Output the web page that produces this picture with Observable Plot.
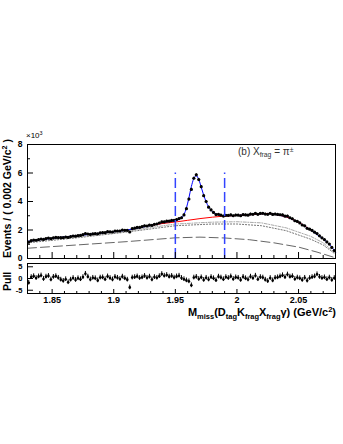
<!DOCTYPE html>
<html><head><meta charset="utf-8">
<script src="https://cdn.jsdelivr.net/npm/d3@7"></script>
<script src="https://cdn.jsdelivr.net/npm/@observablehq/plot@0.6"></script>
<style>
body{margin:0;background:#fff;}
#wrap{position:relative;width:343px;height:444px;overflow:hidden;font-family:"Liberation Sans",Arial,Helvetica,sans-serif;}
#wrap svg{position:absolute;left:0;top:0;}
.lbl{position:absolute;white-space:nowrap;color:#000;}
.rot{transform:rotate(-90deg);transform-origin:0 0;}
.sup{font-size:0.68em;vertical-align:0.5em;line-height:0;}
.sub{font-size:0.68em;vertical-align:-0.35em;line-height:0;}
</style></head><body><div id="wrap"></div>
<script>
// ---- data (Events in units of 10^3 per 0.002 GeV/c^2 bin) ----
const binLow = 1.83, binWidth = 0.002;
const counts = [
 1.15,1.25,1.29,1.28,1.33,1.37,1.34,1.40,1.43,1.39,
 1.45,1.48,1.47,1.46,1.46,1.51,1.48,1.54,1.58,1.57,
 1.61,1.62,1.67,1.75,1.72,1.69,1.73,1.74,1.73,1.80,
 1.82,1.81,1.88,1.87,1.86,1.93,1.93,1.93,2.00,1.98,
 1.98,1.86,2.09,2.13,2.18,2.18,2.23,2.29,2.28,2.34,
 2.32,2.40,2.42,2.49,2.57,2.57,2.62,2.62,2.67,2.67,
 2.73,2.80,2.86,3.06,3.50,4.17,4.85,5.63,5.87,5.54,
 5.04,4.41,4.00,3.60,3.41,3.23,3.08,3.10,3.04,2.98,
 3.03,3.02,3.06,3.00,3.05,3.04,3.00,3.08,3.06,3.04,
 3.12,3.10,3.17,3.10,3.16,3.17,3.12,3.10,3.17,3.09,
 3.12,3.09,3.07,3.06,2.97,2.98,2.86,2.79,2.65,2.60,
 2.50,2.35,2.29,2.12,2.06,1.97,1.85,1.75,1.59,1.45,
 1.33,1.16,1.01,0.78,0.56];
const pulls = [
 -1.8,0.6,1.0,0.2,0.9,1.3,-0.2,0.8,1.1,-0.4,
 0.7,1.0,0.3,-0.5,-1.0,-0.3,-1.6,-0.5,0.2,-0.6,
 0.1,-0.3,0.6,2.0,0.8,-0.4,0.3,0.1,-0.8,0.4,
 0.5,-0.3,0.9,0.2,-0.4,0.7,0.3,-0.2,0.8,0.1,
 -0.5,-3.8,0.4,0.6,0.9,0.2,0.5,1.1,0.3,0.8,
 -0.4,0.6,0.3,1.0,1.9,1.2,1.5,0.8,1.1,0.4,
 0.9,1.2,0.2,-0.3,-0.8,-1.2,-2.9,0.4,0.7,-0.2,
 0.5,-0.6,0.3,-0.4,0.6,0.1,-0.7,0.8,0.4,-0.3,
 0.6,0.2,0.9,-0.2,0.5,0.3,-0.6,0.7,0.1,-0.4,
 0.8,0.2,1.2,-0.3,0.6,0.4,-0.5,-1.1,0.2,-0.8,
 0.3,0.5,0.9,1.4,0.6,1.7,0.8,1.0,-0.2,0.4,
 0.1,-0.6,0.3,-0.9,0.2,0.6,0.9,1.8,0.7,0.2,
 0.5,-0.3,0.4,-0.6,0.2];

// fit curves
const fitX = [1.83,1.846,1.884,1.911,1.934,1.949,1.951,1.953,1.955,1.957,1.959,1.961,1.963,1.965,1.967,1.969,1.971,1.973,1.975,1.977,1.979,1.981,1.983,1.985,1.987,1.99,2.0,2.01,2.02,2.026,2.03,2.035,2.04,2.045,2.05,2.055,2.06,2.065,2.07,2.075,2.08];
const fitY = [1.2,1.38,1.73,2.0,2.39,2.65,2.68,2.74,2.85,3.08,3.55,4.25,5.05,5.6,5.82,5.55,5.0,4.45,3.98,3.62,3.38,3.22,3.12,3.06,3.02,3.0,3.025,3.07,3.14,3.16,3.11,3.02,2.92,2.74,2.54,2.27,2.0,1.68,1.37,1.0,0.45];
const bkgX = [1.93,1.94,1.95,1.96,1.97,1.98,1.99,2.0,2.01,2.02,2.026,2.03,2.04,2.05,2.06];
const bkgY = [2.32,2.46,2.56,2.68,2.8,2.9,2.98,3.02,3.07,3.14,3.16,3.11,2.92,2.54,2.0];
const dotLoX = [1.83,1.87,1.91,1.95,1.98,2.0,2.02,2.04,2.06,2.07,2.08];
const dotLoY = [1.1,1.45,1.85,2.3,2.42,2.42,2.3,1.95,1.35,0.95,0.3];
const dotHiX = [1.83,1.87,1.91,1.95,1.98,2.0,2.02,2.04,2.06,2.07,2.08];
const dotHiY = [1.15,1.5,1.92,2.42,2.55,2.58,2.5,2.15,1.55,1.1,0.35];
const dashX = [1.83,1.87,1.91,1.95,1.97,1.99,2.01,2.03,2.05,2.065,2.08];
const dashY = [0.72,0.95,1.18,1.45,1.5,1.44,1.32,1.1,0.8,0.45,0.05];

// signal window
const cutEdges = [1.95, 1.99];
const cutHeight = 6;

// axes
const xDomain = [1.83, 2.08];
const xLabels = [1.85, 1.9, 1.95, 2, 2.05];
const xMinor = [1.84,1.86,1.87,1.88,1.89,1.91,1.92,1.93,1.94,1.96,1.97,1.98,1.99,2.01,2.02,2.03,2.04,2.06,2.07];
const yLabels = [0, 2, 4, 6, 8];
const yMinor = [1, 3, 5, 7];
const pullLabels = [-5, 0, 5];

// ---- layout ----
const W = 343, H = 444, ML = 27, MR = 8;
const mainTop = 144, mainBottom = 258, pullTop = 263, pullBottom = 293;
const frameW = W - ML - MR, mainH = mainBottom - mainTop, pullH = pullBottom - pullTop;
const font = "'Liberation Sans', Arial, Helvetica, sans-serif";

const pts = counts.map((c, i) => ({x: binLow + binWidth * (i + 0.5), y: c, e: Math.sqrt(c * 1000) / 1000}));
const pullPts = pulls.map((p, i) => ({x: binLow + binWidth * (i + 0.5), p}));
const curve = (xs, ys) => xs.map((x, i) => ({x, y: ys[i]}));

const main = Plot.plot({
  width: W, height: H, marginLeft: ML, marginRight: MR, marginTop: mainTop, marginBottom: H - mainBottom,
  x: {domain: xDomain, axis: null},
  y: {domain: [0, 8], axis: null},
  style: {background: "transparent", fontFamily: font, overflow: "visible"},
  marks: [
    Plot.line(curve(dashX, dashY), {x: "x", y: "y", stroke: "#666", strokeWidth: 1, strokeDasharray: "9,4"}),
    Plot.line(curve(dotLoX, dotLoY), {x: "x", y: "y", stroke: "#777", strokeWidth: 1, strokeDasharray: "1.2,1.8"}),
    Plot.line(curve(dotHiX, dotHiY), {x: "x", y: "y", stroke: "#aaa", strokeWidth: 1, strokeDasharray: "3,1.5,1,1.5"}),
    Plot.line(curve(fitX, fitY), {x: "x", y: "y", stroke: "#0000ff", strokeWidth: 1, curve: "catmull-rom"}),
    Plot.line(curve(bkgX, bkgY), {x: "x", y: "y", stroke: "#ff0000", strokeWidth: 1, curve: "catmull-rom"}),
    Plot.ruleX(pts, {x: "x", y1: d => d.y - d.e, y2: d => d.y + d.e, stroke: "#000", strokeWidth: 1}),
    Plot.dot(pts, {x: "x", y: "y", r: 1.6, fill: "#000", stroke: null}),
    Plot.ruleX(cutEdges, {x: d => d, y1: 0, y2: cutHeight, stroke: "#3344ff", strokeWidth: 1.5, strokeDasharray: "10,4"}),
    Plot.tickX(xMinor, {x: d => d, insetTop: mainH - 3, stroke: "#000"}),
    Plot.tickX(xLabels, {x: d => d, insetTop: mainH - 6, stroke: "#000"}),
    Plot.tickY(yMinor, {y: d => d, insetRight: frameW - 3, stroke: "#000"}),
    Plot.tickY(yLabels, {y: d => d, insetRight: frameW - 6, stroke: "#000"}),
    Plot.axisY({ticks: yLabels, tickSize: 0, tickPadding: 5, label: null, fontSize: 8.5, fontWeight: "bold", tickFormat: d => String(d)}),
    Plot.frame({stroke: "#000", strokeWidth: 1})
  ]
});

const pull = Plot.plot({
  width: W, height: H, marginLeft: ML, marginRight: MR, marginTop: pullTop, marginBottom: H - pullBottom,
  x: {domain: xDomain, axis: null},
  y: {domain: [-6.4, 6.4], axis: null},
  style: {background: "transparent", fontFamily: font, overflow: "visible"},
  marks: [
    Plot.ruleX(pullPts, {x: "x", y1: d => d.p - 1, y2: d => d.p + 1, stroke: "#000", strokeWidth: 1}),
    Plot.dot(pullPts, {x: "x", y: "p", r: 1.3, fill: "#000", stroke: null}),
    Plot.tickX(xMinor, {x: d => d, insetTop: pullH - 2, stroke: "#000"}),
    Plot.tickX(xLabels, {x: d => d, insetTop: pullH - 4, stroke: "#000"}),
    Plot.tickY(pullLabels, {y: d => d, insetRight: frameW - 6, stroke: "#000"}),
    Plot.axisY({ticks: pullLabels, tickSize: 0, tickPadding: 5, label: null, fontSize: 7.5, fontWeight: "bold", tickFormat: d => String(d)}),
    Plot.axisX({ticks: xLabels, tickSize: 0, tickPadding: 3, label: null, fontSize: 9, fontWeight: "bold", tickFormat: d => String(d)}),
    Plot.frame({stroke: "#000", strokeWidth: 1})
  ]
});

const wrap = document.getElementById("wrap");
wrap.appendChild(main);
wrap.appendChild(pull);

function label(html, style, cls) {
  const d = document.createElement("div");
  d.className = "lbl" + (cls ? " " + cls : "");
  d.innerHTML = html;
  Object.assign(d.style, style);
  wrap.appendChild(d);
}
label('Events / ( 0.002 GeV/c<span class="sup">2</span> )', {left: "1px", top: "258px", fontSize: "10.5px", fontWeight: "bold", lineHeight: "12px"}, "rot");
label('Pull', {left: "1px", top: "291px", fontSize: "10.5px", fontWeight: "bold", lineHeight: "12px"}, "rot");
label('&times;10<span class="sup">3</span>', {left: "26px", top: "131px", fontSize: "8px", lineHeight: "10px"});
label('(b) X<span class="sub">frag</span> = &pi;<span class="sup">&plusmn;</span>', {left: "238px", top: "146px", fontSize: "10px", color: "#333", lineHeight: "12px"});
label('M<span class="sub">miss</span>(D<span class="sub">tag</span>K<span class="sub">frag</span>X<span class="sub">frag</span>&gamma;) (GeV/c<span class="sup">2</span>)', {right: "7px", top: "306px", fontSize: "11px", fontWeight: "bold", lineHeight: "13px"});
</script></body></html>
